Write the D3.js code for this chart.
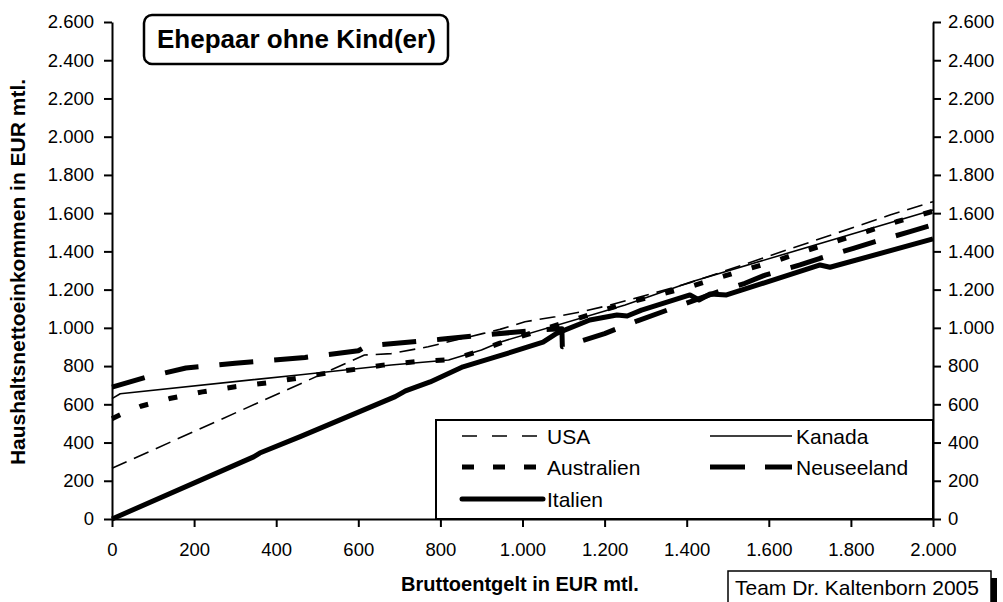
<!DOCTYPE html>
<html><head><meta charset="utf-8">
<script src="https://cdn.jsdelivr.net/npm/d3@7"></script>
<style>
html,body{margin:0;padding:0;background:#fff;}
svg{display:block;font-family:"Liberation Sans",Arial,sans-serif;}
</style></head>
<body>
<svg id="c" width="1003" height="602"></svg>
<script>
// ---- data ----
const seriesNames = ["USA","Kanada","Australien","Neuseeland","Italien"];
const usaX = [0, 615, 680, 770, 810, 905, 945, 1006, 1080, 1144, 1213, 1319, 1408, 1700, 1895, 2000];
const usaY = [265, 858, 865, 901, 922, 971, 992, 1032, 1058, 1084, 1119, 1181, 1236, 1448, 1590, 1660];
const kanadaX = [0, 20, 460, 680, 820, 860, 900, 945, 1250, 1410, 2000];
const kanadaY = [630, 655, 755, 806, 832, 858, 884, 925, 1120, 1240, 1617];
const australienX = [0, 30, 70, 140, 220, 300, 380, 450, 520, 600, 660, 740, 830, 890, 945, 1250, 1400, 1473, 1546, 1623, 1692, 1765, 1838, 1911, 2000];
const australienY = [525, 555, 590, 630, 665, 692, 713, 736, 762, 785, 805, 823, 835, 875, 920, 1128, 1210, 1259, 1306, 1355, 1404, 1454, 1503, 1555, 1610];
const neuseelandX = [0, 80, 180, 300, 470, 600, 620, 800, 900, 1050, 1096, 1097, 1150, 1200, 1280, 1410, 1489, 1542, 1591, 1676, 1725, 1806, 1859, 1944, 2000];
const neuseelandY = [690, 740, 790, 815, 845, 880, 905, 940, 962, 990, 995, 901, 936, 970, 1037, 1137, 1198, 1233, 1276, 1329, 1364, 1416, 1451, 1503, 1540];
const italienX = [0, 345, 360, 460, 690, 715, 775, 855, 937, 1050, 1083, 1164, 1230, 1255, 1290, 1408, 1430, 1457, 1497, 1725, 1749, 2000];
const italienY = [0, 325, 345, 432, 640, 670, 717, 796, 849, 925, 971, 1041, 1067, 1062, 1093, 1172, 1146, 1177, 1172, 1329, 1317, 1465];
const xTicks = [0,200,400,600,800,1000,1200,1400,1600,1800,2000];
const yTicks = [0,200,400,600,800,1000,1200,1400,1600,1800,2000,2200,2400,2600];
const chartTitle = "Ehepaar ohne Kind(er)";
const xTitle = "Bruttoentgelt in EUR mtl.";
const yTitle = "Haushaltsnettoeinkommen in EUR mtl.";
const credit = "Team Dr. Kaltenborn 2005";

// ---- styles ----
const styles = {
  USA:        {w:1.6, dash:"16,8"},
  Kanada:     {w:1.6, dash:null},
  Australien: {w:5,   dash:"9,21"},
  Neuseeland: {w:5,   dash:"34,21"},
  Italien:    {w:5,   dash:null}
};
const data = {
  USA: usaX.map((x,i)=>[x,usaY[i]]),
  Kanada: kanadaX.map((x,i)=>[x,kanadaY[i]]),
  Australien: australienX.map((x,i)=>[x,australienY[i]]),
  Neuseeland: neuseelandX.map((x,i)=>[x,neuseelandY[i]]),
  Italien: italienX.map((x,i)=>[x,italienY[i]])
};

const svg = d3.select("#c");
const x = d3.scaleLinear().domain([0,2000]).range([112,933]);
const y = d3.scaleLinear().domain([0,2600]).range([519,22]);
const de = d3.formatLocale({decimal:",",thousands:".",grouping:[3],currency:["","€"]});
const fmt = de.format(",d");

// lines
const line = d3.line().x(d=>x(d[0])).y(d=>y(d[1]));
const order = ["USA","Kanada","Australien","Neuseeland","Italien"];
order.forEach(n=>{
  const s = styles[n];
  svg.append("path").datum(data[n]).attr("d",line)
    .attr("fill","none").attr("stroke","#000").attr("stroke-width",s.w)
    .attr("stroke-linejoin","round")
    .attr("stroke-dasharray",s.dash);
});

// axes
function styleAxis(g){
  g.selectAll(".domain").attr("stroke","#000").attr("stroke-width",2);
  g.selectAll(".tick line").attr("stroke","#000").attr("stroke-width",2);
  g.selectAll("text").attr("font-size","18.5px").attr("fill","#000").attr("font-family","'Liberation Sans',Arial,sans-serif");
}
svg.append("g").attr("transform","translate(0,519)")
  .call(d3.axisBottom(x).tickValues(xTicks).tickFormat(fmt).tickSize(8).tickSizeOuter(0).tickPadding(16))
  .call(styleAxis);
svg.append("g").attr("transform","translate(112,0)")
  .call(d3.axisLeft(y).tickValues(yTicks).tickFormat(fmt).tickSize(8).tickSizeOuter(0).tickPadding(10))
  .call(styleAxis);
svg.append("g").attr("transform","translate(933,0)")
  .call(d3.axisRight(y).tickValues(yTicks).tickFormat(fmt).tickSize(8).tickSizeOuter(0).tickPadding(7))
  .call(styleAxis);

// axis titles
svg.append("text").attr("x",520).attr("y",591).attr("text-anchor","middle")
  .attr("font-weight","bold").attr("font-size","20px").text(xTitle);
svg.append("text").attr("transform","translate(25,272) rotate(-90)").attr("text-anchor","middle")
  .attr("font-weight","bold").attr("font-size","21px").text(yTitle);

// title box
svg.append("rect").attr("x",144).attr("y",15).attr("width",304).attr("height",49).attr("rx",8)
  .attr("fill","#fff").attr("stroke","#000").attr("stroke-width",2.5);
svg.append("text").attr("x",157).attr("y",48).attr("font-weight","bold").attr("font-size","26px").text(chartTitle);

// legend
const lg = svg.append("g");
lg.append("rect").attr("x",436).attr("y",420).attr("width",497).attr("height",99)
  .attr("fill","#fff").attr("stroke","#000").attr("stroke-width",2);
const legPos = {
  USA:[462,537,547,436], Kanada:[710,792,796,436],
  Australien:[462,537,547,467], Neuseeland:[710,792,796,467],
  Italien:[462,543,547,499]
};
order.forEach(n=>{
  const p = legPos[n], s = styles[n];
  lg.append("line").attr("x1",p[0]).attr("x2",p[1]).attr("y1",p[3]).attr("y2",p[3])
    .attr("stroke","#000").attr("stroke-width",s.w).attr("stroke-dasharray",
      n==="USA"?"15,15":n==="Australien"?"12,19":n==="Neuseeland"?"35,20":null)
    .attr("stroke-linecap", n==="Italien"?"round":"butt");
  lg.append("text").attr("x",p[2]).attr("y",p[3]).attr("dy","0.36em").attr("font-size","21px").text(n);
});

// credit box
svg.append("rect").attr("x",991).attr("y",578).attr("width",6).attr("height",30).attr("fill","#000");
svg.append("rect").attr("x",728).attr("y",571).attr("width",263).attr("height",40)
  .attr("fill","#fff").attr("stroke","#000").attr("stroke-width",1.5);
svg.append("text").attr("x",735).attr("y",595).attr("font-size","21px").text(credit);
</script>
</body></html>
